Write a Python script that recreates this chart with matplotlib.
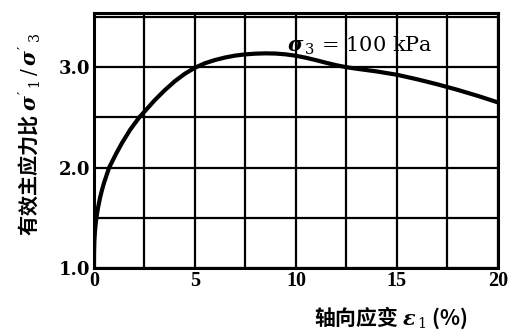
import matplotlib
matplotlib.use("Agg")
import matplotlib.pyplot as plt
from matplotlib.ticker import MultipleLocator, FixedLocator

strain = [0.0, 0.005, 0.02, 0.05, 0.1, 0.15, 0.2, 0.3, 0.4, 0.5, 0.6, 0.75,
          0.9, 1.1, 1.4, 1.8, 2.24, 2.6, 3.0, 3.5, 4.0, 4.5, 5.0, 5.5, 6.0,
          6.5, 7.0, 7.5, 8.0, 8.5, 9.0, 9.5, 10.0, 10.5, 11.0, 11.5, 12.0,
          12.5, 13.0, 14.0, 15.0, 16.0, 17.0, 18.0, 19.0, 20.0]
ratio = [1.0, 1.16, 1.27, 1.37, 1.47, 1.54, 1.6, 1.7, 1.78, 1.85, 1.91, 2.0,
         2.06, 2.14, 2.25, 2.38, 2.5, 2.58, 2.67, 2.77, 2.86, 2.935, 2.995,
         3.04, 3.072, 3.097, 3.116, 3.128, 3.135, 3.138, 3.136, 3.128, 3.114,
         3.094, 3.07, 3.044, 3.02, 3.0, 2.985, 2.958, 2.925, 2.88, 2.83,
         2.775, 2.715, 2.65]

x_ticks = [0, 5, 10, 15, 20]
y_ticks = [1.0, 2.0, 3.0]
y_labels = ["1.0", "2.0", "3.0"]

plt.rcParams['font.family'] = ['Noto Sans CJK SC', 'DejaVu Sans']
plt.rcParams['mathtext.fontset'] = 'custom'
plt.rcParams['mathtext.rm'] = 'DejaVu Serif'
plt.rcParams['mathtext.it'] = 'DejaVu Serif:italic:bold'
plt.rcParams['mathtext.bf'] = 'DejaVu Serif:bold'

fig = plt.figure(figsize=(5.08, 3.33), dpi=100)
ax = fig.add_axes([0.185, 0.195, 0.795, 0.766])

ax.plot(strain, ratio, color="black", lw=3.0, solid_capstyle="round",
        solid_joinstyle="round", zorder=5)

ax.set_xlim(0, 20)
ax.set_ylim(1.0, 3.54)

ax.xaxis.set_major_locator(FixedLocator(x_ticks))
ax.yaxis.set_major_locator(FixedLocator(y_ticks))
ax.xaxis.set_minor_locator(MultipleLocator(2.5))
ax.yaxis.set_minor_locator(MultipleLocator(0.5))
ax.set_yticklabels(y_labels)
ax.grid(True, which="both", color="black", lw=1.6)
ax.tick_params(which="both", length=0)
ax.tick_params(axis="x", pad=2)
ax.tick_params(axis="y", pad=3)
for lab in ax.get_xticklabels():
    lab.set_fontfamily("Liberation Serif")
    lab.set_fontweight("bold")
    lab.set_fontsize(14.5)
for lab in ax.get_yticklabels():
    lab.set_fontfamily("DejaVu Serif")
    lab.set_fontweight("bold")
    lab.set_fontsize(13)
for s in ax.spines.values():
    s.set_linewidth(2.2)
    s.set_color("black")

ax.text(0.478, 0.87, r"$\sigma_{\,3}$ = 100 kPa", transform=ax.transAxes,
        fontsize=15, family="DejaVu Serif", ha="left", va="center", zorder=6)

fig.text(0.058, 0.595, "有效主应力比 $\\sigma'_{\\,1}\\,/\\,\\sigma'_{\\,3}$", rotation=90,
         fontsize=14.5, fontweight="bold", ha="center", va="center")
fig.text(0.77, 0.045, "轴向应变 $\\varepsilon_{\\,1}$ (%)", fontsize=15,
         fontweight="bold", ha="center", va="center")

fig.savefig("out.png", dpi=100)
